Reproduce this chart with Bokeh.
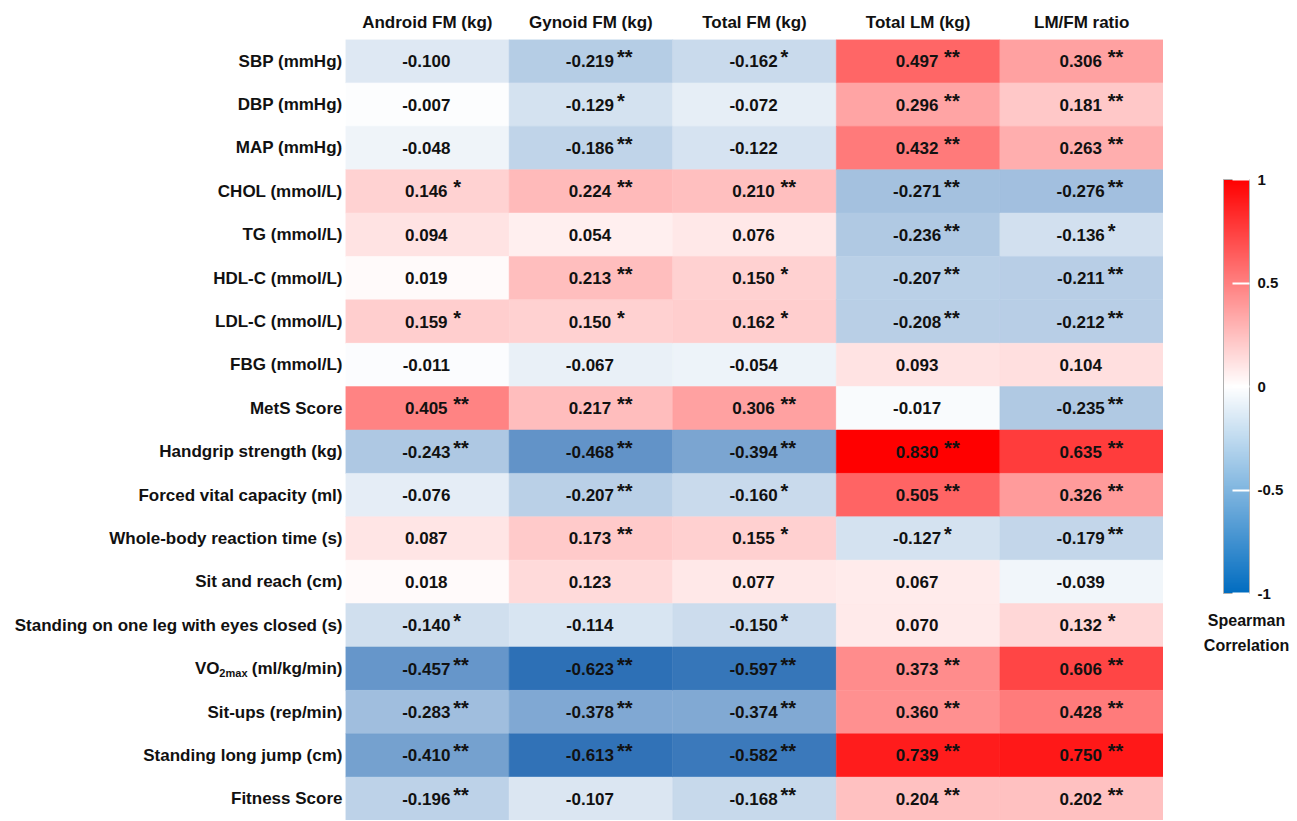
from bokeh.plotting import figure
from bokeh.layouts import row
from bokeh.models import ColumnDataSource, LinearColorMapper, ColorBar, FixedTicker, Label, FactorRange, Range1d
from bokeh.transform import transform
from bokeh.core.properties import value
from bokeh.embed import file_html
from bokeh.resources import INLINE

columns = ["Android FM (kg)", "Gynoid FM (kg)", "Total FM (kg)", "Total LM (kg)", "LM/FM ratio"]

rows = [
    "SBP (mmHg)", "DBP (mmHg)", "MAP (mmHg)", "CHOL (mmol/L)", "TG (mmol/L)",
    "HDL-C (mmol/L)", "LDL-C (mmol/L)", "FBG (mmol/L)", "MetS Score",
    "Handgrip strength (kg)", "Forced vital capacity (ml)", "Whole-body reaction time (s)",
    "Sit and reach (cm)", "Standing on one leg with eyes closed (s)", "VO2max (ml/kg/min)",
    "Sit-ups (rep/min)", "Standing long jump (cm)", "Fitness Score",
]

android_fm = [-0.100, -0.007, -0.048, 0.146, 0.094, 0.019, 0.159, -0.011, 0.405,
              -0.243, -0.076, 0.087, 0.018, -0.140, -0.457, -0.283, -0.410, -0.196]
android_sig = ["", "", "", "*", "", "", "*", "", "**",
               "**", "", "", "", "*", "**", "**", "**", "**"]

gynoid_fm = [-0.219, -0.129, -0.186, 0.224, 0.054, 0.213, 0.150, -0.067, 0.217,
             -0.468, -0.207, 0.173, 0.123, -0.114, -0.623, -0.378, -0.613, -0.107]
gynoid_sig = ["**", "*", "**", "**", "", "**", "*", "", "**",
              "**", "**", "**", "", "", "**", "**", "**", ""]

total_fm = [-0.162, -0.072, -0.122, 0.210, 0.076, 0.150, 0.162, -0.054, 0.306,
            -0.394, -0.160, 0.155, 0.077, -0.150, -0.597, -0.374, -0.582, -0.168]
total_fm_sig = ["*", "", "", "**", "", "*", "*", "", "**",
                "**", "*", "*", "", "*", "**", "**", "**", "**"]

total_lm = [0.497, 0.296, 0.432, -0.271, -0.236, -0.207, -0.208, 0.093, -0.017,
            0.830, 0.505, -0.127, 0.067, 0.070, 0.373, 0.360, 0.739, 0.204]
total_lm_sig = ["**", "**", "**", "**", "**", "**", "**", "", "",
                "**", "**", "*", "", "", "**", "**", "**", "**"]

lm_fm_ratio = [0.306, 0.181, 0.263, -0.276, -0.136, -0.211, -0.212, 0.104, -0.235,
               0.635, 0.326, -0.179, -0.039, 0.132, 0.606, 0.428, 0.750, 0.202]
lm_fm_sig = ["**", "**", "**", "**", "*", "**", "**", "", "**",
             "**", "**", "**", "", "*", "**", "**", "**", "**"]

cb_ticks = [-1, -0.5, 0, 0.5, 1]
cb_tick_labels = ["-1", "-0.5", "0", "0.5", "1"]
cb_title = ["Spearman", "Correlation"]

series = [(android_fm, android_sig), (gynoid_fm, gynoid_sig), (total_fm, total_fm_sig),
          (total_lm, total_lm_sig), (lm_fm_ratio, lm_fm_sig)]

xs, ys, vals, labels, stars = [], [], [], [], []
for col, (vs, ss) in zip(columns, series):
    for r, v, s in zip(rows, vs, ss):
        xs.append(col)
        ys.append(r)
        vals.append(v)
        labels.append(f"{v:.3f}")
        stars.append(s)
src = ColumnDataSource(dict(x=xs, y=ys, val=vals, label=labels, stars=stars))


def mix(c1, c2, f):
    return "#%02x%02x%02x" % tuple(int(round(a + (b - a) * f)) for a, b in zip(c1, c2))


WHITE = (255, 255, 255)
RED = (255, 0, 0)
BLUE_CELL = (40, 108, 180)
BLUE_BAR = (0, 108, 192)

N = 512
lo, hi = -0.83, 0.83
cell_palette = []
for i in range(N):
    v = lo + (i + 0.5) * (hi - lo) / N
    if v < 0:
        cell_palette.append(mix(WHITE, BLUE_CELL, min(1.0, -v / 0.64)))
    else:
        cell_palette.append(mix(WHITE, RED, min(1.0, v / 0.83)))
cell_mapper = LinearColorMapper(palette=cell_palette, low=lo, high=hi)

bar_palette = []
for i in range(256):
    v = -1 + (i + 0.5) * 2 / 256
    if v < 0:
        bar_palette.append(mix(WHITE, BLUE_BAR, -v))
    else:
        bar_palette.append(mix(WHITE, RED, v))
bar_mapper = LinearColorMapper(palette=bar_palette, low=-1, high=1)

FONT = "Liberation Sans"
TXT = "#111111"
H = 820
TOP = 39


def clean(fig):
    fig.outline_line_color = None
    fig.grid.visible = False
    fig.background_fill_color = "white"
    fig.border_fill_color = "white"


# ---- main heatmap
p = figure(width=818, height=H,
           x_range=FactorRange(*columns), y_range=FactorRange(*reversed(rows)),
           x_axis_location="above", y_axis_location=None,
           output_backend="svg", toolbar_location=None,
           min_border_left=0, min_border_right=0, min_border_top=TOP, min_border_bottom=0)
clean(p)

p.rect(x="x", y="y", width=1, height=1, source=src,
       fill_color=transform("val", cell_mapper), line_color=transform("val", cell_mapper), line_width=0.5)
p.text(x="x", y="y", text="label", source=src, x_offset=-1,
       text_align="center", text_baseline="middle",
       text_font=value(FONT), text_font_style="bold", text_font_size="17px", text_color=TXT)
p.text(x="x", y="y", text="stars", source=src, x_offset=26, y_offset=-4,
       text_align="left", text_baseline="middle",
       text_font=value(FONT), text_font_style="bold", text_font_size="20px", text_color=TXT)

ax = p.xaxis[0]
ax.axis_line_color = None
ax.major_tick_line_color = None
ax.minor_tick_line_color = None
ax.major_tick_out = 0
ax.major_tick_in = 0
ax.major_label_text_font = FONT
ax.major_label_text_font_style = "bold"
ax.major_label_text_font_size = "17px"
ax.major_label_text_color = TXT
ax.major_label_standoff = 8

# ---- row labels (left)
vo_row = "VO2max (ml/kg/min)"
pl = figure(width=345, height=H, x_range=Range1d(0, 1), y_range=p.y_range,
            x_axis_location=None, y_axis_location=None,
            output_backend="svg", toolbar_location=None,
            min_border_left=0, min_border_right=0, min_border_top=TOP, min_border_bottom=0)
clean(pl)
row_src = ColumnDataSource(dict(y=rows, x=[1] * len(rows),
                                t=["" if r == vo_row else r for r in rows]))
lab_kw = dict(text_font=value(FONT), text_font_style="bold", text_color=TXT, text_baseline="middle",
              text_align="right")
pl.text(x="x", y="y", text="t", source=row_src, x_offset=-3, text_font_size="17px", **lab_kw)
pl.text(x=[1], y=[vo_row], text=["(ml/kg/min)"], x_offset=-3, text_font_size="17px", **lab_kw)
pl.text(x=[1], y=[vo_row], text=["2max"], x_offset=-98, y_offset=4, text_font_size="11px", **lab_kw)
pl.text(x=[1], y=[vo_row], text=["VO"], x_offset=-126, text_font_size="17px", **lab_kw)

# ---- colour bar (right)
pr = figure(width=127, height=H, x_range=Range1d(0, 1), y_range=Range1d(0, 1),
            x_axis_location=None, y_axis_location=None,
            output_backend="svg", toolbar_location=None,
            min_border_left=0, min_border_right=0, min_border_top=0, min_border_bottom=0)
clean(pr)
cb = ColorBar(color_mapper=bar_mapper, width=26, height=414,
              ticker=FixedTicker(ticks=cb_ticks),
              major_label_overrides={float(t): s for t, s in zip(cb_ticks, cb_tick_labels)},
              major_tick_line_color="white", major_tick_line_width=2,
              major_tick_in=17, major_tick_out=0, minor_tick_line_color=None,
              label_standoff=8, major_label_text_font=FONT, major_label_text_font_style="bold",
              major_label_text_font_size="15px", major_label_text_color=TXT,
              bar_line_color="#b0b0b0", bar_line_width=1, padding=0, margin=0,
              background_fill_alpha=0, border_line_color=None, location=(60, 227))
pr.add_layout(cb, "center")
for txt, yy in zip(cb_title, (200, 175)):
    pr.add_layout(Label(x=83, y=yy, x_units="screen", y_units="screen", text=txt,
                        text_align="center", text_baseline="middle", text_font=FONT,
                        text_font_style="bold", text_font_size="16px", text_color=TXT))

layout = row(pl, p, pr)
open("out.html", "w").write(file_html(layout, INLINE))
